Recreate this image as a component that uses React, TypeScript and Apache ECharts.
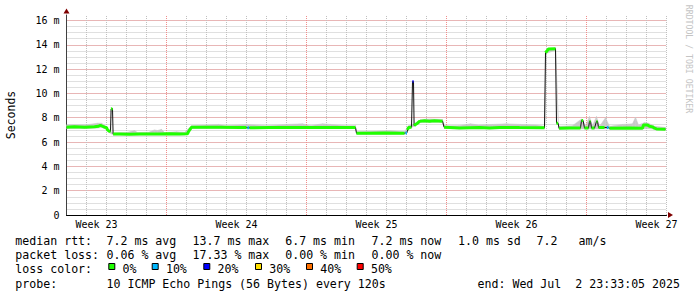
import React, { useEffect, useRef } from 'react';
import * as echarts from 'echarts';

// ---------- data ----------
// time in days since graph start (Mon Jun 2 23:33), 30 days shown
const times = [
  0.0, 0.4, 0.9, 1.4, 1.6, 1.7, 1.8, 1.9, 2.0, 2.05,
  2.15, 2.2, 2.23, 2.3, 2.33, 2.65, 3.15, 3.65, 4.15, 4.65,
  5.15, 5.65, 6.05, 6.1, 6.18, 6.25, 6.65, 7.65, 8.65, 9.0,
  9.05, 9.12, 9.15, 9.4, 10.15, 11.65, 13.15, 14.45, 14.5, 15.15,
  15.9, 16.65, 16.9, 16.95, 17.02, 17.05, 17.1, 17.25, 17.3, 17.35,
  17.38, 17.45, 17.55, 17.65, 17.9, 18.15, 18.4, 18.8, 18.88, 19.15,
  19.65, 20.15, 20.65, 21.15, 21.65, 22.65, 23.9, 23.95, 24.0, 24.1,
  24.45, 24.5, 24.58, 24.63, 25.15, 25.7, 25.75, 25.83, 25.9, 26.1,
  26.15, 26.2, 26.25, 26.4, 26.5, 26.55, 26.6, 26.9, 27.02, 27.1,
  27.15, 28.15, 28.8, 28.85, 29.05, 29.15, 29.3, 29.4, 29.5, 29.95,
];
// median rtt in ms
const medianRtt = [
  7.22, 7.25, 7.22, 7.25, 7.3, 7.38, 7.3, 7.22, 7.2, 7.0,
  6.88, 6.88, 8.72, 8.75, 6.67, 6.67, 6.65, 6.67, 6.66, 6.67,
  6.68, 6.67, 6.68, 6.85, 7.05, 7.22, 7.22, 7.22, 7.2, 7.2,
  7.18, 7.17, 7.17, 7.18, 7.2, 7.2, 7.19, 7.19, 6.73, 6.72,
  6.74, 6.73, 6.73, 6.75, 6.75, 7.0, 7.2, 7.22, 10.98, 10.98,
  7.35, 7.45, 7.55, 7.7, 7.75, 7.72, 7.75, 7.72, 7.22, 7.2,
  7.15, 7.18, 7.2, 7.15, 7.2, 7.19, 7.18, 13.35, 13.45, 13.65,
  13.68, 7.55, 7.55, 7.14, 7.15, 7.15, 7.78, 7.78, 7.15, 7.15,
  7.7, 7.7, 7.15, 7.15, 7.7, 7.7, 7.2, 7.2, 7.2, 7.2,
  7.14, 7.15, 7.14, 7.41, 7.41, 7.3, 7.25, 7.14, 7.08, 7.06,
];
// packet loss in percent at each point
const lossPct = [
  0, 0, 0, 0, 0, 0, 0, 0, 0, 0,
  0, 0, 0, 0, 0, 0, 0, 0, 0, 0,
  0, 0, 0, 0, 0, 0, 0, 0, 0, 0,
  10, 10, 0, 0, 0, 0, 0, 0, 0, 0,
  0, 0, 0, 10, 10, 0, 0, 0, 20, 20,
  0, 0, 0, 0, 0, 0, 0, 0, 0, 0,
  0, 0, 0, 0, 0, 0, 0, 0, 0, 0,
  0, 0, 0, 0, 0, 0, 0, 0, 0, 0,
  0, 0, 0, 0, 0, 0, 0, 0, 10, 10,
  0, 0, 0, 0, 0, 0, 0, 0, 0, 0,
];
// smoke (ping spread)
const smokeTimes = [
  0.0, 1.0, 1.55, 1.75, 1.95, 2.1, 2.35, 3.0, 3.4, 3.55,
  4.1, 4.4, 4.55, 4.75, 4.9, 5.5, 5.9, 6.25, 7.0, 7.6,
  8.0, 9.0, 10.0, 11.0, 11.8, 12.2, 12.8, 13.2, 14.0, 14.45,
  14.5, 15.5, 16.2, 16.9, 17.1, 17.4, 17.7, 18.2, 18.8, 18.9,
  19.6, 20.2, 20.6, 21.3, 22.0, 22.7, 23.5, 23.9, 24.0, 24.45,
  24.6, 25.3, 25.75, 25.95, 26.15, 26.3, 26.5, 26.65, 26.95, 27.15,
  27.8, 28.3, 28.45, 28.6, 28.9, 29.1, 29.4, 29.95,
];
const smokeLow = [
  7.12, 7.12, 7.15, 7.2, 7.1, 6.8, 6.58, 6.58, 6.58, 6.58,
  6.58, 6.58, 6.58, 6.58, 6.58, 6.58, 6.58, 7.12, 7.12, 7.12,
  7.12, 7.1, 7.12, 7.12, 7.12, 7.12, 7.12, 7.12, 7.12, 7.12,
  6.65, 6.65, 6.65, 6.65, 7.12, 7.3, 7.6, 7.62, 7.62, 7.12,
  7.1, 7.1, 7.1, 7.1, 7.1, 7.1, 7.1, 7.1, 13.3, 13.55,
  7.08, 7.08, 7.08, 7.08, 7.08, 7.08, 7.08, 7.08, 7.08, 7.08,
  7.08, 7.08, 7.08, 7.08, 7.1, 7.1, 7.05, 7.0,
];
const smokeHigh = [
  7.42, 7.42, 7.55, 7.55, 7.35, 7.0, 6.75, 6.78, 6.95, 6.78,
  6.8, 7.0, 6.95, 7.05, 6.78, 6.85, 6.8, 7.35, 7.4, 7.45,
  7.35, 7.45, 7.35, 7.45, 7.5, 7.35, 7.5, 7.45, 7.35, 7.35,
  6.85, 6.9, 6.95, 6.85, 7.35, 7.5, 7.85, 7.9, 7.85, 7.35,
  7.35, 7.5, 7.4, 7.45, 7.5, 7.45, 7.4, 7.3, 13.55, 13.75,
  7.3, 7.35, 7.9, 7.35, 8.1, 7.35, 8.1, 7.3, 8.0, 7.3,
  7.45, 7.5, 8.05, 7.4, 7.6, 7.55, 7.3, 7.2,
];

const weekLabels = ['Week 23', 'Week 24', 'Week 25', 'Week 26', 'Week 27'];
const weekLabelDays = [1.5, 8.5, 15.5, 22.5, 29.5];
const weekBoundaryDays = [5, 12, 19, 26];
const totalDays = 30;

const lossColors = ['#20ff00', '#00b8ff', '#0000ff', '#ffe000', '#ff7000', '#ff0000'];
const lossLegendLabels = ['0%', '10%', '20%', '30%', '40%', '50%'];

const rttStatValues = [7.2, 13.7, 6.7, 7.2, 1.0];
const rttStatNames = ['avg', 'max', 'min', 'now', 'sd'];
const amPerSec = 7.2;
const lossStatValues = [0.06, 17.33, 0.0, 0.0];
const lossStatNames = ['avg', 'max', 'min', 'now'];
const probeText = '10 ICMP Echo Pings (56 Bytes) every 120s';
const endTextParts = ['end: Wed Jul', '2 23:33:05 2025'];
const watermark = 'RRDTOOL / TOBI OETIKER';

// ---------- layout ----------
const MONO = '"DejaVu Sans Mono", monospace';
const LEG_FONT = '11.6px ' + MONO;
const rowY = [241.3, 255.3, 269.3, 283.5];
const colX = [106.5, 192.5, 285.2, 371.5, 458];
const swatchX = [108.3, 151.7, 203.3, 255, 306, 356.7];

function bucketOf(p: number) {
  return p <= 0 ? 0 : Math.min(5, Math.ceil(p / 10 - 1e-9));
}

function buildOption() {
  const smokeSegments = smokeTimes.slice(0, -1).map((t, i) => [
    t, smokeLow[i], smokeHigh[i], smokeTimes[i + 1], smokeLow[i + 1], smokeHigh[i + 1],
  ]);
  const medianData = times.map((t, i) => [t, medianRtt[i]]);

  const dayGrid: number[] = [];
  for (let d = 1; d <= totalDays; d++) if (!weekBoundaryDays.includes(d)) dayGrid.push(d);

  const lossSeries = lossColors.map((color, b) => {
    const data: any[] = [];
    let open = false;
    for (let i = 0; i + 1 < times.length; i++) {
      const ok =
        bucketOf(lossPct[i]) === b &&
        bucketOf(lossPct[i + 1]) === b &&
        Math.abs(medianRtt[i + 1] - medianRtt[i]) < 0.4;
      if (ok) {
        if (!open) data.push([times[i], medianRtt[i]]);
        data.push([times[i + 1], medianRtt[i + 1]]);
        open = true;
      } else if (open) {
        data.push([times[i + 1], '-']);
        open = false;
      }
    }
    return {
      type: 'line',
      name: 'loss ' + lossLegendLabels[b],
      data,
      symbol: 'none',
      showSymbol: false,
      connectNulls: false,
      silent: true,
      z: 5,
      lineStyle: { color, width: 3, cap: 'butt' },
    };
  });

  const txt = (text: string, x: number, y: number, extra: any = {}) => ({
    type: 'text',
    x,
    y,
    silent: true,
    style: { text, font: LEG_FONT, fill: '#000', align: 'left', verticalAlign: 'middle', ...extra },
  });

  const graphics: any[] = [];
  graphics.push(txt('median rtt:', 15.3, rowY[0]));
  rttStatValues.forEach((v, i) => graphics.push(txt(`${v.toFixed(1)} ms ${rttStatNames[i]}`, colX[i], rowY[0])));
  graphics.push(txt(amPerSec.toFixed(1), 536.5, rowY[0]));
  graphics.push(txt('am/s', 578.6, rowY[0]));
  graphics.push(txt('packet loss:', 15.3, rowY[1]));
  lossStatValues.forEach((v, i) => graphics.push(txt(`${v.toFixed(2)} % ${lossStatNames[i]}`, colX[i], rowY[1])));
  graphics.push(txt('loss color:', 15.3, rowY[2]));
  lossColors.forEach((c, i) => {
    graphics.push({
      type: 'rect',
      silent: true,
      shape: { x: swatchX[i] + 0.5, y: rowY[2] - 5.8, width: 6, height: 6 },
      style: { fill: c, stroke: '#000', lineWidth: 1 },
    });
    graphics.push(txt(lossLegendLabels[i], swatchX[i] + 14.2, rowY[2]));
  });
  graphics.push(txt('probe:', 15.3, rowY[3]));
  graphics.push(txt(probeText, colX[0], rowY[3]));
  graphics.push(txt(endTextParts[0], 477.5, rowY[3]));
  graphics.push(txt(endTextParts[1], 575.3, rowY[3]));
  graphics.push({
    type: 'text',
    x: 688.5,
    y: 59,
    rotation: -Math.PI / 2,
    silent: true,
    style: { text: watermark, font: '8.2px ' + MONO, fill: '#c4c4c4', align: 'center', verticalAlign: 'middle' },
  });

  const YMAX = 16.45;
  const gray = '#c0c0c0';
  const red = '#f08c8c';

  return {
    animation: false,
    backgroundColor: '#ffffff',
    textStyle: { fontFamily: MONO },
    grid: { left: 66.5, right: 30.5, top: 15, bottom: 82, containLabel: false, outerBoundsMode: 'none' },
    xAxis: [
      {
        type: 'value', min: 0, max: totalDays, interval: 1, position: 'bottom', z: 3,
        axisLine: { show: true, lineStyle: { color: '#000', width: 1 } },
        axisTick: { show: false },
        axisLabel: { show: false },
        splitLine: { show: false },
      },
      {
        type: 'value', min: 0, max: totalDays, interval: 0.5, position: 'bottom',
        axisLine: { show: false },
        axisTick: { show: false },
        splitLine: { show: false },
        axisLabel: {
          show: true, margin: 4, fontFamily: MONO, fontSize: 10, color: '#000',
          showMinLabel: true, showMaxLabel: true,
          formatter: (v: number) => {
            const k = weekLabelDays.findIndex((d) => Math.abs(d - v) < 0.01);
            return k >= 0 ? weekLabels[k] : '';
          },
        },
      },
      {
        type: 'value', min: 0, max: totalDays, position: 'bottom', z: 3,
        axisLine: {
          show: true, symbol: ['none', 'triangle'], symbolSize: [6, 5], symbolOffset: [0, 4],
          lineStyle: { color: '#7f0000', opacity: 0 },
        },
        axisTick: { show: false }, axisLabel: { show: false }, splitLine: { show: false },
      },
    ],
    yAxis: [
      {
        type: 'value', min: 0, max: YMAX, interval: 0.5, position: 'left', z: 0,
        axisLine: { show: false }, axisTick: { show: false }, axisLabel: { show: false },
        splitLine: { show: true, showMinLine: false, showMaxLine: false, lineStyle: { color: gray, width: 1, type: [1, 1] } },
      },
      {
        type: 'value', min: 0, max: YMAX, interval: 2, position: 'left', z: 1,
        name: 'Seconds', nameLocation: 'middle', nameRotate: 90, nameGap: 50,
        nameTextStyle: { fontFamily: MONO, fontSize: 11.5, color: '#000' },
        axisLine: { show: true, lineStyle: { color: '#404040', width: 1 } },
        axisTick: { show: false },
        axisLabel: {
          show: true, margin: 7, fontFamily: MONO, fontSize: 10, color: '#000', showMaxLabel: false,
          formatter: (v: number) => (Math.abs(v % 2) > 1e-6 ? '' : v === 0 ? '0' : `${v} m`),
        },
        splitLine: { show: true, showMinLine: false, showMaxLine: false, lineStyle: { color: red, width: 1, type: [1, 1] } },
      },
      {
        type: 'value', min: 0, max: YMAX, position: 'left', z: 3,
        axisLine: {
          show: true, symbol: ['none', 'triangle'], symbolSize: [6, 5], symbolOffset: [0, 4],
          lineStyle: { color: '#7f0000', opacity: 0 },
        },
        axisTick: { show: false }, axisLabel: { show: false }, splitLine: { show: false },
      },
    ],
    series: [
      {
        type: 'line', name: 'day grid', data: [], z: 1, silent: true,
        markLine: {
          silent: true, symbol: 'none', label: { show: false }, animation: false,
          lineStyle: { color: gray, width: 1, type: [1, 1] },
          data: dayGrid.map((d) => ({ xAxis: d })),
        },
      },
      {
        type: 'line', name: 'week boundaries', data: [], z: 1, silent: true,
        markLine: {
          silent: true, symbol: 'none', label: { show: false }, animation: false,
          lineStyle: { color: red, width: 1, type: [1, 1] },
          data: weekBoundaryDays.map((d) => ({ xAxis: d })),
        },
      },
      {
        type: 'custom', name: 'smoke', data: smokeSegments, silent: true, z: 2,
        encode: { x: [0, 3], y: [1, 2, 4, 5] },
        renderItem: (params: any, api: any) => {
          const a0 = api.coord([api.value(0), api.value(1)]);
          const a1 = api.coord([api.value(0), api.value(2)]);
          const b0 = api.coord([api.value(3), api.value(4)]);
          const b1 = api.coord([api.value(3), api.value(5)]);
          return {
            type: 'polygon',
            shape: { points: [a0, b0, b1, a1] },
            style: { fill: '#c8c8c8', stroke: '#c8c8c8', lineWidth: 0.5 },
          };
        },
      },
      {
        type: 'line', name: 'median rtt', data: medianData, symbol: 'none', silent: true, z: 4,
        lineStyle: { color: '#101010', width: 1 },
      },
      ...lossSeries,
    ],
    graphic: { elements: graphics },
  };
}

export default function App() {
  const ref = useRef<HTMLDivElement>(null);
  useEffect(() => {
    if (!ref.current) return;
    const chart = echarts.init(ref.current, null, { renderer: 'svg' });
    chart.setOption(buildOption() as any);
    return () => chart.dispose();
  }, []);
  return (
    <div
      ref={ref}
      style={{ position: 'fixed', left: 0, top: 0, width: 697, height: 297, background: '#fff' }}
    />
  );
}
